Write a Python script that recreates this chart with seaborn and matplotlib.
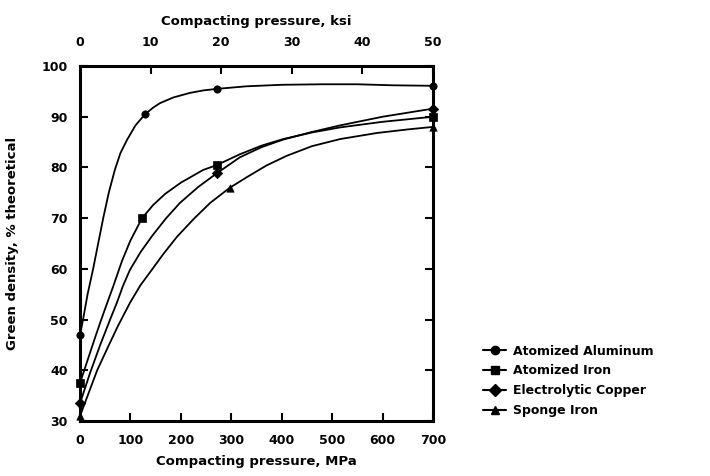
import matplotlib
matplotlib.use('Agg')
import matplotlib.pyplot as plt
import seaborn as sns
import pandas as pd
from matplotlib.lines import Line2D

# Curves (pressure in MPa, green density in % theoretical)
al_p = [0, 6, 15, 26, 36, 46, 57, 69, 80, 93, 110, 129, 145, 159, 185, 218, 245,
        272, 330, 400, 480, 550, 620, 700]
al_d = [47, 50, 55, 60, 65, 70, 75, 79.5, 82.8, 85.4, 88.3, 90.5, 91.8, 92.7, 93.8,
        94.7, 95.2, 95.5, 96.0, 96.3, 96.4, 96.4, 96.2, 96.1]
al_mark_p = [0, 129, 272, 700]
al_mark_d = [47, 90.5, 95.5, 96.1]

fe_p = [0, 10, 20, 30, 40, 50, 66, 83, 100, 123, 145, 169, 200, 244, 272, 317,
        360, 403, 460, 516, 600, 700]
fe_d = [37.5, 40.5, 43.5, 46.5, 49.4, 52.2, 56.6, 61.5, 65.6, 70.0, 72.6, 74.8, 77.0,
        79.5, 80.5, 82.6, 84.3, 85.6, 86.9, 87.9, 89, 90]
fe_mark_p = [0, 123, 272, 700]
fe_mark_d = [37.5, 70.0, 80.5, 90]

cu_p = [0, 20, 40, 60, 73, 85, 99, 120, 143, 170, 198, 235, 272, 317, 360, 403, 460,
        516, 600, 700]
cu_d = [33.5, 39.5, 45, 50.1, 53.3, 56.6, 59.8, 63.3, 66.5, 69.9, 73.0, 76.2, 78.9, 82,
        84, 85.5, 87, 88.3, 90, 91.6]
cu_mark_p = [0, 272, 700]
cu_mark_d = [33.5, 78.9, 91.6]

sp_p = [0, 17, 34, 55, 75, 99, 120, 143, 165, 192, 225, 258, 297, 331, 370, 410, 460,
        516, 589, 650, 700]
sp_d = [31, 35.5, 40, 44.5, 48.7, 53.3, 56.8, 59.9, 62.9, 66.3, 69.8, 73.0, 76.0, 78.1,
        80.4, 82.3, 84.2, 85.6, 86.8, 87.5, 88]
sp_mark_p = [0, 297, 700]
sp_mark_d = [31, 76.0, 88]

series_names = ['Atomized Aluminum', 'Atomized Iron', 'Electrolytic Copper', 'Sponge Iron']
series_markers = ['o', 's', 'D', '^']

mpa_ticks = [0, 100, 200, 300, 400, 500, 600, 700]
ksi_ticks = [0, 10, 20, 30, 40, 50]
density_ticks = [30, 40, 50, 60, 70, 80, 90, 100]

sns.set_style('ticks')
plt.rcParams['font.family'] = ['DejaVu Sans']
plt.rcParams['font.weight'] = 'bold'
plt.rcParams['text.color'] = 'black'
plt.rcParams['axes.labelcolor'] = 'black'
plt.rcParams['xtick.color'] = 'black'
plt.rcParams['ytick.color'] = 'black'
plt.rcParams['axes.edgecolor'] = 'black'

fig = plt.figure(figsize=(7.1, 4.76), dpi=100)
ax = fig.add_axes([0.1127, 0.1155, 0.4972, 0.7458])

curves = [(al_p, al_d, al_mark_p, al_mark_d),
          (fe_p, fe_d, fe_mark_p, fe_mark_d),
          (cu_p, cu_d, cu_mark_p, cu_mark_d),
          (sp_p, sp_d, sp_mark_p, sp_mark_d)]

for (p, d, mp, md), name, mk in zip(curves, series_names, series_markers):
    line_df = pd.DataFrame({'MPa': p, 'Density': d})
    sns.lineplot(data=line_df, x='MPa', y='Density', ax=ax, color='black',
                 linewidth=1.3, sort=False, estimator=None)
    mark_df = pd.DataFrame({'MPa': mp, 'Density': md})
    sns.scatterplot(data=mark_df, x='MPa', y='Density', ax=ax, color='black',
                    marker=mk, s=28, edgecolor='black', linewidth=0.5, zorder=5,
                    clip_on=False)

ax.set_xlim(0, 700)
ax.set_ylim(30, 100)
ax.set_xticks(mpa_ticks)
ax.set_yticks(density_ticks)
ax.tick_params(axis='x', direction='in', length=6, width=1.5, labelsize=9, pad=9)
ax.tick_params(axis='y', direction='in', length=6, width=1.5, labelsize=9, pad=9,
               right=True)
for spine in ax.spines.values():
    spine.set_visible(True)
    spine.set_linewidth(2.2)
ax.set_xlabel('Compacting pressure, MPa', fontsize=9.5, fontweight='bold', labelpad=6)
ax.set_ylabel('Green density, % theoretical', fontsize=9.5, fontweight='bold', labelpad=16)

# Top axis in ksi
top = ax.secondary_xaxis('top', functions=(lambda x: x / 14.0, lambda k: k * 14.0))
top.set_xticks(ksi_ticks)
top.tick_params(direction='in', length=6, width=1.5, labelsize=9, pad=12)
top.set_xlabel('Compacting pressure, ksi', fontsize=9.5, fontweight='bold', labelpad=8)

handles = [Line2D([0], [0], color='black', linewidth=1.5, marker=mk,
                  markersize=6, markerfacecolor='black')
           for mk in series_markers]
fig.legend(handles, series_names, loc='lower left', bbox_to_anchor=(0.665, 0.1),
           frameon=False, fontsize=9, handlelength=1.8, labelspacing=0.55,
           handletextpad=0.6)

fig.savefig('out.png', dpi=100)
